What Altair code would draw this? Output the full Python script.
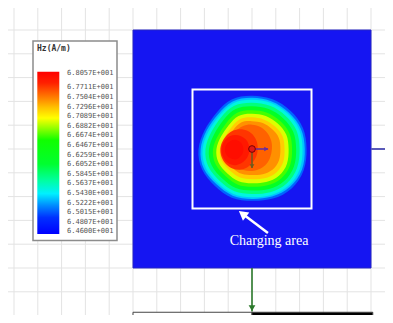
import altair as alt
import pandas as pd

# ---------------- data (model coordinates in mm) ----------------
GRID_X = [-100, -80, -60, -40, -20, 0, 20, 40, 60, 80, 100, 120, 140, 160, 180, 200]
GRID_Y = [-40, -20, 0, 20, 40, 60, 80, 100, 120, 140, 160, 180, 200]

PLATE_X = [0, 200]
PLATE_Y = [0, 200]
CHARGE_X = [50, 150]
CHARGE_Y = [50, 150]

# colour map of the field legend (value -> colour)
CMAP_V = [68.057, 67.82, 67.50, 67.30, 67.07, 66.88, 66.60, 66.09, 65.74, 65.46, 65.22, 64.95, 64.60]
CMAP_C = ["#ff0000", "#ff2000", "#ff8000", "#ffc000", "#ffff00", "#a0ff00", "#10ff00",
          "#00ff30", "#00ffa0", "#00f0ff", "#0090ff", "#0030ff", "#0000ff"]

LEGEND_TITLE = "Hz(A/m)"
LEGEND_LABELS = ["6.8057E+001", "6.7711E+001", "6.7504E+001", "6.7296E+001", "6.7089E+001",
                 "6.6882E+001", "6.6674E+001", "6.6467E+001", "6.6259E+001", "6.6052E+001",
                 "6.5845E+001", "6.5637E+001", "6.5430E+001", "6.5222E+001", "6.5015E+001",
                 "6.4807E+001", "6.4600E+001"]

# field contours: radius (mm) of each level at each angle (deg, counter-clockwise from +x)
ANGLES = [0.0, 22.5, 45.0, 67.5, 90.0, 112.5, 135.0, 157.5, 180.0, 202.5, 225.0, 247.5, 270.0, 292.5, 315.0, 337.5]
LEVEL_V = [65.10, 65.35, 65.55, 65.85, 66.20, 66.70, 67.00, 67.25, 67.45, 67.60, 67.75, 67.88, 67.96]
LEVEL_CX = [100, 100, 100, 100, 100, 100, 100, 100, 100, 100, 90, 86, 85]
LEVEL_CY = [100, 100, 100, 100, 100, 100, 100, 100, 100, 100, 99, 99, 99.5]
LEVEL_R = [
    [46.5, 48, 46.5, 46.5, 45.5, 47, 43, 43.5, 46.5, 47, 44.5, 46, 44, 46.5, 48.5, 48.5],
    [45, 46, 44.5, 44.5, 44, 45, 41, 42, 44.5, 45.5, 42.5, 44, 42.5, 44.5, 46.5, 47],
    [43, 44.5, 43, 43, 42, 43.5, 39.5, 40, 43, 43.5, 41, 42.5, 41, 43, 45, 45],
    [40.5, 42, 40.5, 40.5, 39.5, 41, 37.5, 37.5, 40.5, 41, 38.5, 40, 38, 40.5, 42.5, 42.5],
    [37.5, 39, 37.5, 37.5, 36.5, 38, 34.5, 34.5, 37.5, 38, 35.5, 37, 35, 37.5, 39.5, 39.5],
    [34, 35.5, 34, 34, 33, 34.5, 31, 31, 34, 34.5, 32, 33.5, 32, 34, 36, 36],
    [31, 32.5, 31, 31, 30, 31.5, 28, 28.5, 31, 31.5, 29.5, 30.5, 29, 31, 33, 33],
    [27.5, 29, 27.5, 27.5, 27, 28.5, 25, 25.5, 28, 28.5, 26, 27, 25.5, 27.5, 29.5, 29.5],
    [24, 25.5, 24, 24.5, 23.5, 25.5, 22.5, 23, 25.5, 25.5, 23, 23.5, 22, 23.5, 25.5, 25.5],
    [17, 18, 19, 20.5, 21, 21.5, 20.5, 20.5, 22, 22, 20.5, 19.5, 19, 18.5, 18, 17],
    [15, 16, 17, 18, 18, 18, 17, 17, 17, 17, 17, 17, 17, 16, 15, 15],
    [12, 12.5, 13, 13, 13, 13, 12.5, 12, 12, 12, 12.5, 13, 13, 12.5, 12, 12],
    [8, 8, 8.5, 8.5, 8.5, 8, 8, 8, 8, 8, 8, 8, 8.5, 8.5, 8, 8],
]

# annotation: arrow to charging area and caption
ARROW_TAIL = [113.4, 29.4]
ARROW_TIP = [92.0, 45.5]
CAPTION = "Charging area"
CAPTION_XY = [114.3, 23.0]

# coordinate system marker at the centre
ORIGIN = [100, 100]
X_ARROW_END = 113.5
Y_ARROW_END = 84.0

# scale bar
BAR_Y = [-37.2, -40.3]
BAR_WHITE = [0, 100]
BAR_BLACK = [100, 201.5]
BAR_LABELS = ["0", "100"]
BAR_LABEL_X = [0, 100]
BAR_UNIT_LABEL = "200 (mm)"
BAR_UNIT_X = 196.5

# ---------------- layout ----------------
W, H = 377, 307
xs = alt.Scale(domain=[-105.04, 211.76], nice=False, zero=False)
ys = alt.Scale(domain=[-39.50, 218.49], nice=False, zero=False)
ps = alt.Scale(domain=[0, H], range=[0, H], nice=False, zero=False)   # pixel scale for legend
cs = alt.Scale(domain=CMAP_V[::-1], range=CMAP_C[::-1], interpolate="rgb")

one = pd.DataFrame({"d": [0]})
layers = []

# grid
layers.append(alt.Chart(pd.DataFrame({"x": GRID_X})).mark_rule(color="#e3e3e3", strokeWidth=1)
              .encode(x=alt.X("x:Q", scale=xs, axis=None)))
layers.append(alt.Chart(pd.DataFrame({"y": GRID_Y})).mark_rule(color="#e3e3e3", strokeWidth=1)
              .encode(y=alt.Y("y:Q", scale=ys, axis=None)))

# blue plate
plate = pd.DataFrame({"x": [PLATE_X[0]], "x2": [PLATE_X[1]], "y": [PLATE_Y[0]], "y2": [PLATE_Y[1]]})
layers.append(alt.Chart(plate).mark_rect(color="#1515f2", stroke="#2626c4", strokeWidth=1)
              .encode(x=alt.X("x:Q", scale=xs, axis=None), x2="x2:Q",
                      y=alt.Y("y:Q", scale=ys, axis=None), y2="y2:Q"))

# horizontal blue axis line to the right of the plate
layers.append(alt.Chart(pd.DataFrame({"x": [200], "x2": [215], "y": [100]}))
              .mark_rule(color="#5a5ab8", strokeWidth=2)
              .encode(x=alt.X("x:Q", scale=xs, axis=None), x2="x2:Q", y=alt.Y("y:Q", scale=ys, axis=None)))

# field contours
for i, (v, cx, cy, radii) in enumerate(zip(LEVEL_V, LEVEL_CX, LEVEL_CY, LEVEL_R)):
    d = pd.DataFrame({"k": list(range(len(ANGLES))), "a": ANGLES, "r": radii})
    d["v"] = v
    d["cx"] = cx
    d["cy"] = cy
    layers.append(
        alt.Chart(d).transform_calculate(
            px="datum.cx + datum.r * cos(datum.a * PI / 180)",
            py="datum.cy + datum.r * sin(datum.a * PI / 180)",
        ).mark_line(filled=True, interpolate="basis-closed", strokeWidth=0)
        .encode(x=alt.X("px:Q", scale=xs, axis=None), y=alt.Y("py:Q", scale=ys, axis=None),
                order=alt.Order("k:Q"), color=alt.Color("v:Q", scale=cs, legend=None))
    )

# charging area box
charge = pd.DataFrame({"x": [CHARGE_X[0]], "x2": [CHARGE_X[1]], "y": [CHARGE_Y[0]], "y2": [CHARGE_Y[1]]})
layers.append(alt.Chart(charge).mark_rect(fillOpacity=0, stroke="white", strokeWidth=2)
              .encode(x=alt.X("x:Q", scale=xs, axis=None), x2="x2:Q",
                      y=alt.Y("y:Q", scale=ys, axis=None), y2="y2:Q"))

# white arrow + caption
arrow = pd.DataFrame({"x": [ARROW_TAIL[0]], "y": [ARROW_TAIL[1]], "x2": [ARROW_TIP[0]], "y2": [ARROW_TIP[1]]})
layers.append(alt.Chart(arrow).mark_rule(color="white", strokeWidth=2.5)
              .encode(x=alt.X("x:Q", scale=xs, axis=None), y=alt.Y("y:Q", scale=ys, axis=None),
                      x2="x2:Q", y2="y2:Q"))
layers.append(alt.Chart(pd.DataFrame({"x": [ARROW_TIP[0]], "y": [ARROW_TIP[1]]}))
              .mark_point(shape="triangle-up", filled=True, color="white", opacity=1, size=110, angle=307)
              .encode(x=alt.X("x:Q", scale=xs, axis=None), y=alt.Y("y:Q", scale=ys, axis=None)))
layers.append(alt.Chart(pd.DataFrame({"x": [CAPTION_XY[0]], "y": [CAPTION_XY[1]], "t": [CAPTION]}))
              .mark_text(font="Liberation Serif", fontSize=14, color="white", align="center", baseline="middle")
              .encode(x=alt.X("x:Q", scale=xs, axis=None), y=alt.Y("y:Q", scale=ys, axis=None), text="t:N"))

# origin marker with local axes
layers.append(alt.Chart(pd.DataFrame({"x": [ORIGIN[0]], "x2": [X_ARROW_END], "y": [ORIGIN[1]]}))
              .mark_rule(color="#6a2f9c", strokeWidth=1.6)
              .encode(x=alt.X("x:Q", scale=xs, axis=None), x2="x2:Q", y=alt.Y("y:Q", scale=ys, axis=None)))
layers.append(alt.Chart(pd.DataFrame({"x": [X_ARROW_END - 1.5], "y": [ORIGIN[1]]}))
              .mark_point(shape="triangle-up", filled=True, color="#6a2f9c", opacity=1, size=22, angle=90)
              .encode(x=alt.X("x:Q", scale=xs, axis=None), y=alt.Y("y:Q", scale=ys, axis=None)))
layers.append(alt.Chart(pd.DataFrame({"x": [ORIGIN[0]], "y": [ORIGIN[1]], "y2": [Y_ARROW_END]}))
              .mark_rule(color="#6e5a1e", strokeWidth=1.6)
              .encode(x=alt.X("x:Q", scale=xs, axis=None), y=alt.Y("y:Q", scale=ys, axis=None), y2="y2:Q"))
layers.append(alt.Chart(pd.DataFrame({"x": [ORIGIN[0]], "y": [Y_ARROW_END + 1.5]}))
              .mark_point(shape="triangle-up", filled=True, color="#6e5a1e", opacity=1, size=22, angle=180)
              .encode(x=alt.X("x:Q", scale=xs, axis=None), y=alt.Y("y:Q", scale=ys, axis=None)))
layers.append(alt.Chart(pd.DataFrame({"x": [ORIGIN[0]], "y": [ORIGIN[1]]}))
              .mark_point(shape="circle", filled=True, color="#e01818", stroke="#7a0000", strokeWidth=1,
                          opacity=1, size=45)
              .encode(x=alt.X("x:Q", scale=xs, axis=None), y=alt.Y("y:Q", scale=ys, axis=None)))

# green axis arrow below the plate
layers.append(alt.Chart(pd.DataFrame({"x": [100], "y": [0], "y2": [-36.5]}))
              .mark_rule(color="#2c7a2c", strokeWidth=1.6)
              .encode(x=alt.X("x:Q", scale=xs, axis=None), y=alt.Y("y:Q", scale=ys, axis=None), y2="y2:Q"))
layers.append(alt.Chart(pd.DataFrame({"x": [100], "y": [-33.8]}))
              .mark_point(shape="triangle-up", filled=True, color="#2c7a2c", opacity=1, size=45, angle=180)
              .encode(x=alt.X("x:Q", scale=xs, axis=None), y=alt.Y("y:Q", scale=ys, axis=None)))

# scale bar
bar = pd.DataFrame({"x": [BAR_WHITE[0], BAR_BLACK[0]], "x2": [BAR_WHITE[1], BAR_BLACK[1]],
                    "c": ["white", "black"]})
bar["y"] = BAR_Y[0]
bar["y2"] = BAR_Y[1]
layers.append(alt.Chart(bar).mark_rect(stroke="#444444", strokeWidth=1)
              .encode(x=alt.X("x:Q", scale=xs, axis=None), x2="x2:Q",
                      y=alt.Y("y:Q", scale=ys, axis=None), y2="y2:Q",
                      color=alt.Color("c:N", scale=None)))
layers.append(alt.Chart(pd.DataFrame({"x": BAR_LABEL_X, "t": BAR_LABELS}))
              .mark_text(font="DejaVu Sans", fontSize=8, color="#555555", baseline="top")
              .encode(x=alt.X("x:Q", scale=xs, axis=None), y=alt.value(H + 4), text="t:N"))
layers.append(alt.Chart(pd.DataFrame({"x": [BAR_UNIT_X], "t": [BAR_UNIT_LABEL]}))
              .mark_text(font="DejaVu Sans", fontSize=8, color="#555555", baseline="top", align="left")
              .encode(x=alt.X("x:Q", scale=xs, axis=None), y=alt.value(H + 4), text="t:N"))

# legend (pixel layout)
layers.append(alt.Chart(one).mark_rect(fill="white", stroke="#8c8c8c", strokeWidth=1.5)
              .encode(x=alt.value(25), x2=alt.value(109), y=alt.value(33), y2=alt.value(232.5)))
layers.append(alt.Chart(pd.DataFrame({"t": [LEGEND_TITLE]}))
              .mark_text(font="DejaVu Sans Mono", fontWeight="bold", fontSize=8, color="#333333",
                         align="left", baseline="middle")
              .encode(x=alt.value(29), y=alt.value(40.5), text="t:N"))
stops = [alt.GradientStop(offset=(CMAP_V[0] - v) / (CMAP_V[0] - CMAP_V[-1]), color=c)
         for v, c in zip(CMAP_V, CMAP_C)]
layers.append(alt.Chart(one).mark_rect(fill=alt.Gradient(gradient="linear", stops=stops,
                                                          x1=0, x2=0, y1=0, y2=1))
              .encode(x=alt.value(29.3), x2=alt.value(51.3), y=alt.value(63.7), y2=alt.value(226)))
lab = pd.DataFrame({"i": list(range(len(LEGEND_LABELS))), "t": LEGEND_LABELS})
layers.append(alt.Chart(lab).transform_calculate(
        ly="datum.i == 0 ? 64.7 : 79.3 + 9.6 * (datum.i - 1)")
    .mark_text(font="DejaVu Sans Mono", fontSize=7, color="#555555", align="left", baseline="middle")
    .encode(x=alt.value(59), y=alt.Y("ly:Q", scale=ps, axis=None), text="t:N"))

chart = (alt.layer(*layers)
         .resolve_scale(x="independent", y="independent")
         .properties(width=W, height=H, padding=0, background="white",
                     autosize=alt.AutoSizeParams(type="none"))
         .configure_view(stroke=None))

chart.save("out.html", embed_options={"renderer": "svg", "actions": False})
